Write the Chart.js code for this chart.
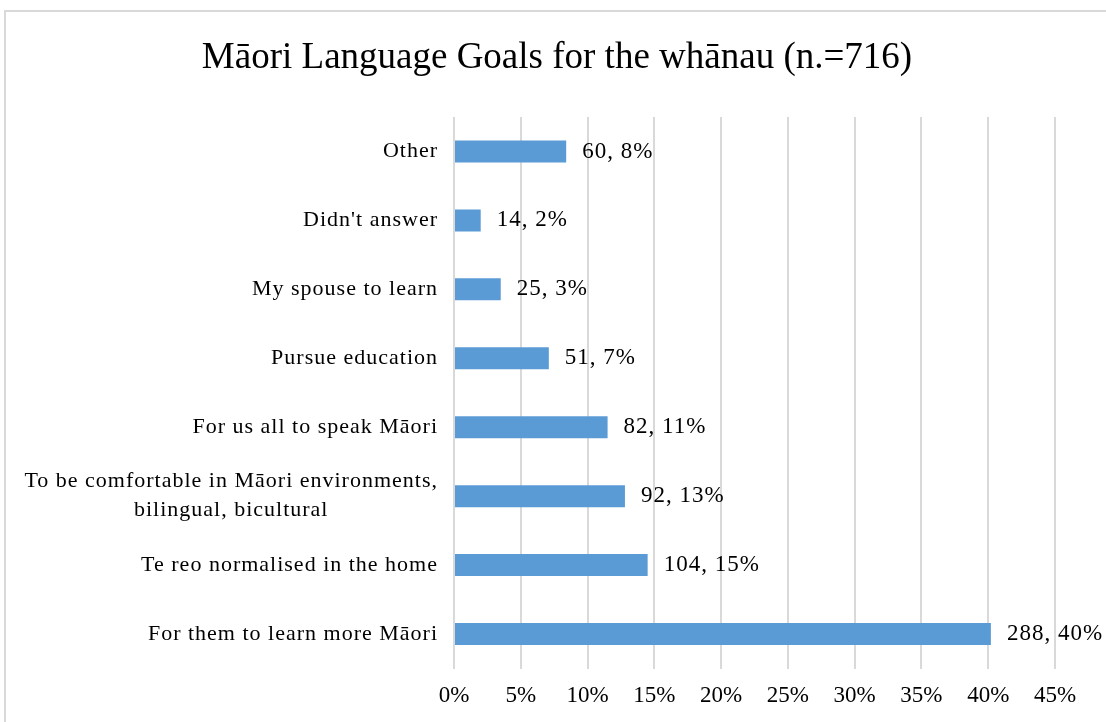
<!DOCTYPE html>
<html>
<head>
<meta charset="utf-8">
<script src="https://cdn.jsdelivr.net/npm/chart.js@4.4.0/dist/chart.umd.min.js"></script>
<style>
  html, body { margin: 0; padding: 0; background: #fff; overflow: hidden; }
  #frame {
    position: absolute; left: 4px; top: 10px; width: 1200px; height: 800px;
    border: 2px solid #d9d9d9;
  }
  #wrap { position: absolute; left: 0; top: 0; width: 1106px; height: 722px; }
</style>
</head>
<body>
<div id="frame"></div>
<div id="wrap"><canvas id="grafico" width="1106" height="722"></canvas></div>
<script>
// Dados do gráfico
const titulo = "Māori Language Goals for the whānau (n.=716)";
const categorias = [
  "Other",
  "Didn't answer",
  "My spouse to learn",
  "Pursue education",
  "For us all to speak Māori",
  ["To be comfortable in Māori environments,", "bilingual, bicultural"],
  "Te reo normalised in the home",
  "For them to learn more Māori",
];
const respostas = [60, 14, 25, 51, 82, 92, 104, 288];
const percentuais = [8.4, 2.0, 3.5, 7.1, 11.5, 12.8, 14.5, 40.2];
const rotulosPct = ["8%", "2%", "3%", "7%", "11%", "13%", "15%", "40%"];
const ticksX = [0, 5, 10, 15, 20, 25, 30, 35, 40, 45];

const fonte = '"Liberation Serif", "Times New Roman", serif';

// Título desenhado no topo
const pluginTitulo = {
  id: "titulo",
  afterDraw(chart) {
    const ctx = chart.ctx;
    ctx.save();
    ctx.font = "37px " + fonte;
    ctx.letterSpacing = "0px";
    ctx.fillStyle = "#000";
    ctx.textAlign = "center";
    ctx.textBaseline = "middle";
    ctx.fillText(titulo, 557, 58);
    ctx.restore();
  },
};

// Rótulos das categorias (bloco alinhado à direita, linhas centradas)
const pluginCategorias = {
  id: "categorias",
  afterDraw(chart) {
    const ctx = chart.ctx;
    const y = chart.scales.y;
    const direita = chart.chartArea.left - 16;
    ctx.save();
    ctx.font = "22px " + fonte;
    ctx.letterSpacing = "1px";
    ctx.fillStyle = "#000";
    ctx.textBaseline = "middle";
    ctx.textAlign = "center";
    categorias.forEach((label, i) => {
      const linhas = Array.isArray(label) ? label : [label];
      const largura = Math.max(...linhas.map((l) => ctx.measureText(l).width));
      const cy = y.getPixelForValue(i);
      linhas.forEach((linha, j) => {
        ctx.fillText(linha, direita - largura / 2, cy + (j - (linhas.length - 1) / 2) * 29);
      });
    });
    ctx.restore();
  },
};

// Rótulos de valores ao lado das barras
const pluginValores = {
  id: "valores",
  afterDatasetsDraw(chart) {
    const ctx = chart.ctx;
    const meta = chart.getDatasetMeta(0);
    ctx.save();
    ctx.font = "23px " + fonte;
    ctx.letterSpacing = "1px";
    ctx.fillStyle = "#000";
    ctx.textAlign = "left";
    ctx.textBaseline = "middle";
    meta.data.forEach((bar, i) => {
      ctx.fillText(respostas[i] + ", " + rotulosPct[i], bar.x + 16, bar.y);
    });
    ctx.restore();
  },
};

new Chart(document.getElementById("grafico"), {
  type: "bar",
  data: {
    labels: categorias,
    datasets: [
      {
        label: "Goals",
        data: percentuais,
        backgroundColor: "#5b9bd5",
        borderWidth: 0,
        barPercentage: 0.32,
        categoryPercentage: 1,
      },
    ],
  },
  options: {
    indexAxis: "y",
    responsive: false,
    animation: false,
    devicePixelRatio: 1,
    layout: { padding: { top: 117, right: 51, left: 0, bottom: 0 } },
    plugins: {
      legend: { display: false },
      title: { display: false },
      tooltip: { enabled: false },
    },
    scales: {
      x: {
        min: 0,
        max: 45,
        afterBuildTicks: (scale) => {
          scale.ticks = ticksX.map((v) => ({ value: v }));
        },
        afterFit: (scale) => {
          scale.height = 53.5;
        },
        border: { display: false },
        grid: { color: "#d9d9d9", lineWidth: 2, drawTicks: false },
        ticks: {
          padding: 14,
          color: "#000",
          font: { family: fonte, size: 23 },
          callback: (v) => v + "%",
          maxRotation: 0,
        },
      },
      y: {
        afterFit: (scale) => {
          scale.width = 454;
        },
        border: { display: false },
        grid: { display: false },
        ticks: { display: false },
      },
    },
  },
  plugins: [pluginTitulo, pluginCategorias, pluginValores],
});
</script>
</body>
</html>
